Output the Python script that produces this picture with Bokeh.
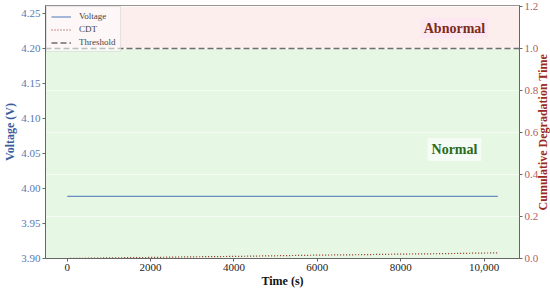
import math
from bokeh.plotting import figure
from bokeh.models import (Range1d, LinearAxis, BoxAnnotation, Label, Legend,
                          LegendItem, NumeralTickFormatter, FixedTicker, Grid)
from bokeh.embed import file_html
from bokeh.resources import INLINE

# ---- data ----
time_s = [0, 1000, 2000, 3000, 4000, 5000, 6000, 7000, 8000, 9000, 10000, 10330]
voltage = [3.989, 3.989, 3.989, 3.989, 3.989, 3.989, 3.989, 3.989, 3.989, 3.989, 3.989, 3.989]
cdt = [0.000, 0.003, 0.005, 0.008, 0.010, 0.013, 0.016, 0.018, 0.021, 0.023, 0.026, 0.027]
threshold_v = [4.20]

x_ticks = [0, 2000, 4000, 6000, 8000, 10000]
x_tick_labels = ["0", "2000", "4000", "6000", "8000", "10,000"]
left_ticks = [3.90, 3.95, 4.00, 4.05, 4.10, 4.15, 4.20, 4.25]
right_ticks = [0.0, 0.2, 0.4, 0.6, 0.8, 1.0, 1.2]

abnormal_pos = (9290, 4.2297)
normal_pos = (9290, 4.056)

FONT = "Liberation Serif"
BLUE = "#3a5c9c"
RED = "#9a2a1c"

X0, X1 = -520, 10850
Y0, Y1 = 3.90, 4.262
R0, R1 = 0.0, 1.205
FW, FH = 474, 253

p = figure(frame_width=FW, frame_height=FH, output_backend="svg", toolbar_location=None,
           x_range=Range1d(X0, X1), y_range=Range1d(Y0, Y1),
           min_border_left=0, min_border_right=0, min_border_top=5, min_border_bottom=0)
p.extra_y_ranges = {"cdt": Range1d(R0, R1)}
p.background_fill_color = "white"
p.outline_line_color = "#777777"
p.xgrid.visible = False
p.ygrid.visible = False

# regions
p.add_layout(BoxAnnotation(top=threshold_v[0], fill_color="#e6f7e3", fill_alpha=1.0,
                           line_color=None, level="underlay"))
p.add_layout(BoxAnnotation(bottom=threshold_v[0], fill_color="#fdeeee", fill_alpha=1.0,
                           line_color=None, level="underlay"))
g = Grid(dimension=1, ticker=FixedTicker(ticks=right_ticks), y_range_name="cdt",
         grid_line_color="#ffffff", grid_line_alpha=0.6, level="underlay")
p.add_layout(g)

# lines
v_r = p.line(time_s, voltage, line_color="#6a8cc4", line_width=1.2)
c_r = p.line(time_s, cdt, y_range_name="cdt", line_color="#8b2a1a",
             line_dash="1 2", line_width=1.2)
t_r = p.hspan(y=threshold_v, line_color="#6e6e6e", line_dash="6 3", line_width=1.5)

legend = Legend(items=[LegendItem(label="Voltage", renderers=[v_r]),
                       LegendItem(label="CDT", renderers=[c_r]),
                       LegendItem(label="Threshold", renderers=[t_r])],
                location="top_left")
legend.label_text_font = FONT
legend.label_text_font_size = "9px"
legend.label_text_color = "#444444"
legend.glyph_width = 20
legend.glyph_height = 9
legend.label_height = 9
legend.spacing = 3
legend.padding = 4
legend.margin = 1
legend.label_standoff = 8
legend.border_line_color = "#cccccc"
legend.border_line_alpha = 0.5
legend.background_fill_color = "white"
legend.background_fill_alpha = 0.55
p.add_layout(legend)

# annotations
p.add_layout(Label(x=abnormal_pos[0], y=abnormal_pos[1], text="Abnormal",
                   text_font=FONT, text_font_style="bold", text_font_size="14px",
                   text_color="#7e2a18", text_align="center", text_baseline="middle",
                   background_fill_color="#fde6ef", background_fill_alpha=0.9,
                   padding=3))
p.add_layout(Label(x=normal_pos[0], y=normal_pos[1], text="Normal",
                   text_font=FONT, text_font_style="bold", text_font_size="14px",
                   text_color="#2a6a1a", text_align="center", text_baseline="middle",
                   background_fill_color="#f6fcf6", background_fill_alpha=0.9,
                   padding=4))

# axes
def style_axis(ax, color, label_color):
    ax.axis_line_color = "#666666"
    ax.major_tick_line_color = "#666666"
    ax.major_tick_out = 3
    ax.major_tick_in = 0
    ax.minor_tick_line_color = None
    ax.major_label_text_font = FONT
    ax.major_label_text_font_size = "11px"
    ax.major_label_text_color = color
    ax.major_label_standoff = 2
    ax.axis_label_text_font = FONT
    ax.axis_label_text_font_size = "12px"
    ax.axis_label_text_font_style = "bold"
    ax.axis_label_text_color = label_color
    ax.axis_label_standoff = 1

xa = p.xaxis[0]
xa.ticker = FixedTicker(ticks=x_ticks)
xa.major_label_overrides = dict(zip(x_ticks, x_tick_labels))
xa.axis_label = "Time (s)"
style_axis(xa, "#222222", "#111111")
xa.axis_label_standoff = 0

ya = p.yaxis[0]
ya.ticker = FixedTicker(ticks=left_ticks)
ya.formatter = NumeralTickFormatter(format="0.00")
ya.axis_label = "Voltage (V)"
style_axis(ya, "#5a78b0", BLUE)

ra = LinearAxis(y_range_name="cdt", ticker=FixedTicker(ticks=right_ticks),
                formatter=NumeralTickFormatter(format="0.0"))
style_axis(ra, "#b06060", RED)
p.add_layout(ra, "right")

# right-hand title drawn as a single rotated tick label so it reads bottom-to-top
RIGHT_LABEL = "Cumulative Degradation Time"
label_len_px = 157
title_start = round((R0 + R1) / 2 - (label_len_px / 2) * (R1 - R0) / FH, 3)
rt = LinearAxis(y_range_name="cdt", ticker=FixedTicker(ticks=[title_start]),
                major_label_overrides={title_start: RIGHT_LABEL},
                major_label_orientation=math.pi / 2)
rt.axis_line_color = None
rt.major_tick_line_color = None
rt.minor_tick_line_color = None
rt.major_tick_out = 0
rt.major_tick_in = 0
rt.major_label_standoff = 2
rt.major_label_text_font = FONT
rt.major_label_text_font_size = "12px"
rt.major_label_text_font_style = "bold"
rt.major_label_text_color = RED
p.add_layout(rt, "right")

open("out.html", "w").write(file_html(p, INLINE))
